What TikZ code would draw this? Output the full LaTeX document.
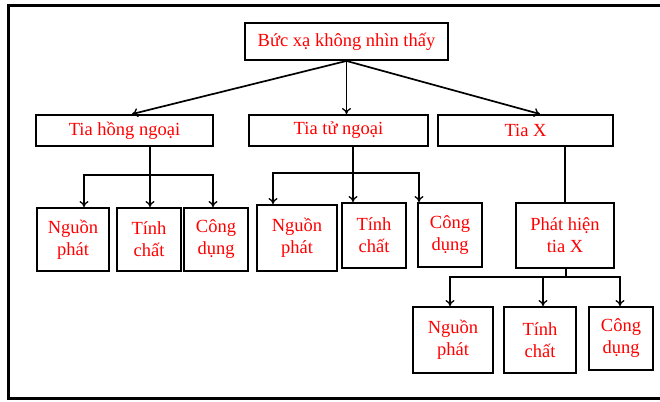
\documentclass[tikz,border=0pt]{standalone}
\usepackage{fontspec}
\setmainfont{Liberation Serif}
\usetikzlibrary{arrows.meta,calc}

\tikzset{
  box/.style={draw=black, line width=1.9pt, fill=white, inner sep=0pt,
    align=center, text=red, font=\fontsize{18.5}{22}\selectfont},
  link/.style={draw=black, line width=1.7pt},
  arr/.style={link, -{To[length=6pt,width=9pt,line width=1.3pt]}},
}

\begin{document}
\begin{tikzpicture}[x=1pt, y=-1pt]
  \useasboundingbox (0,0) rectangle (660,401);

  % outer frame (open at the right)
  \draw[line width=2.2pt] (660,5.5) -- (8.5,5.5) -- (8.5,398.5) -- (660,398.5);

  % top level
  \node[box, minimum width=203pt, minimum height=37pt] (top) at (346.5,41.5) {Bức xạ không nhìn thấy};

  % second level
  \node[box, minimum width=177pt, minimum height=31pt] (hn) at (124.5,130.5) {Tia hồng ngoại};
  \node[box, minimum width=179pt, minimum height=31pt] (tn) at (338.5,130.5) {Tia tử ngoại};
  \node[box, minimum width=175pt, minimum height=31pt] (tx) at (525.5,130.5) {Tia X};

  % infrared children
  \node[box, minimum width=72pt, minimum height=63pt] (hn1) at (73,239.5) {Nguồn\\phát};
  \node[box, minimum width=64pt, minimum height=63pt] (hn2) at (149,239.5) {Tính\\chất};
  \node[box, minimum width=64pt, minimum height=63pt] (hn3) at (216,239.5) {Công\\dụng};

  % ultraviolet children
  \node[box, minimum width=80pt, minimum height=66pt] (tn1) at (297,238) {Nguồn\\phát};
  \node[box, minimum width=64pt, minimum height=65pt] (tn2) at (374,235.5) {Tính\\chất};
  \node[box, minimum width=64pt, minimum height=64pt] (tn3) at (450,235) {Công\\dụng};

  % X-ray branch
  \node[box, minimum width=98pt, minimum height=65pt] (ph) at (565,235.5) {Phát hiện\\tia X};
  \node[box, minimum width=80pt, minimum height=66pt] (b1) at (453,340) {Nguồn\\phát};
  \node[box, minimum width=72pt, minimum height=66pt] (b2) at (540,340) {Tính\\chất};
  \node[box, minimum width=64pt, minimum height=63pt] (b3) at (621,338.5) {Công\\dụng};

  % links from the top box
  \draw[arr] (top.south) -- ([xshift=7.5pt]hn.north);
  \draw[arr] (top.south) -- (top.south |- tn.north);
  \draw[arr] (top.south) -- ([xshift=14.5pt]tx.north);

  % infrared fork
  \coordinate (hnb) at ($(hn.south)+(25.5,28)$);
  \draw[link] ([xshift=25.5pt]hn.south) -- (hnb);
  \draw[arr] (hnb) -| ([xshift=11pt]hn1.north);
  \draw[arr] (hnb) -| ([xshift=1pt]hn2.north);
  \draw[arr] (hnb) -| ([xshift=-3pt]hn3.north);

  % ultraviolet fork
  \coordinate (tnb) at ($(tn.south)+(14.5,26)$);
  \draw[link] ([xshift=14.5pt]tn.south) -- (tnb);
  \draw[arr] (tnb) -| ([xshift=-24pt]tn1.north);
  \draw[arr] (tnb) -| ([xshift=-21pt]tn2.north);
  \draw[arr] (tnb) -| ([xshift=-31pt]tn3.north);

  % X-ray to detection, then fork
  \draw[link] (ph.north |- tx.south) -- (ph.north);
  \coordinate (phb) at ($(ph.south)+(1,8)$);
  \draw[link] ([xshift=1pt]ph.south) -- (phb);
  \draw[arr] (phb) -| ([xshift=-3pt]b1.north);
  \draw[arr] (phb) -| ([xshift=3pt]b2.north);
  \draw[arr] (phb) -| ([xshift=-1pt]b3.north);
\end{tikzpicture}
\end{document}
